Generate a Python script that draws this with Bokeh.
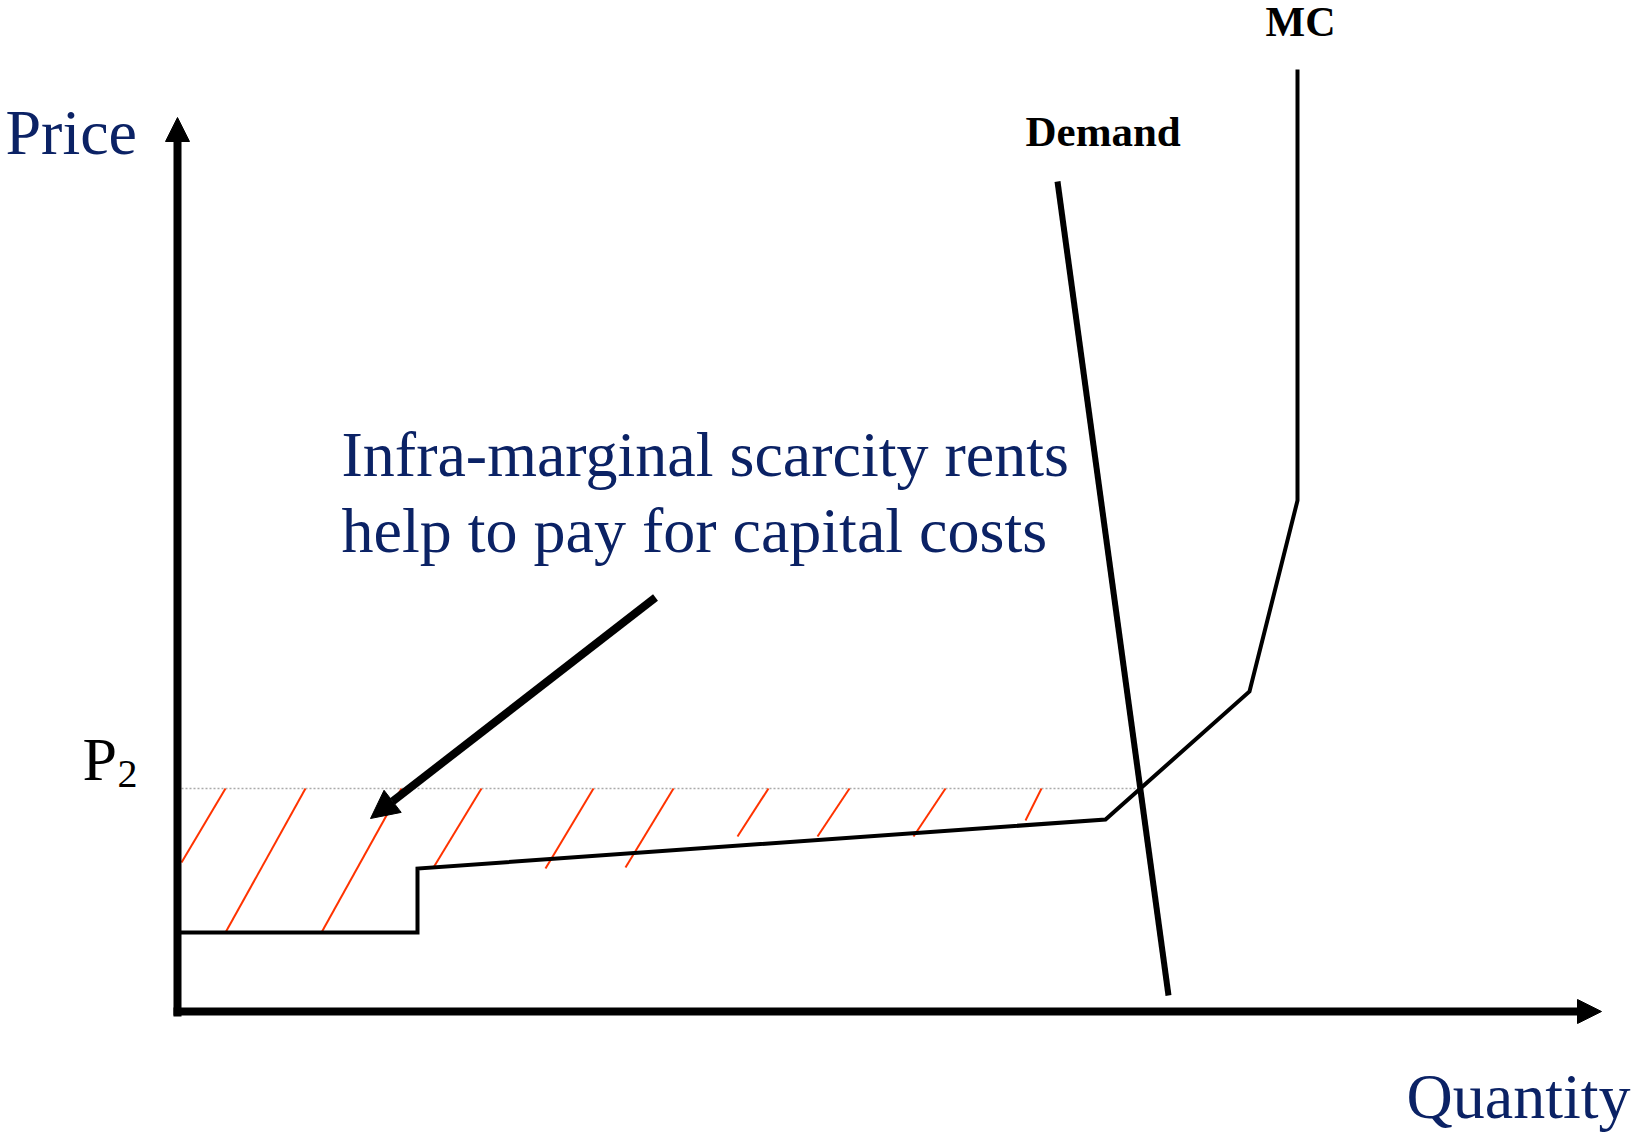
from bokeh.plotting import figure
from bokeh.models import Range1d, Arrow, NormalHead
from bokeh.core.properties import value
from bokeh.embed import file_html
from bokeh.resources import INLINE

# ---- data (arbitrary quantity / price units, origin at axes corner) ----
mc_q = [0, 240, 240, 928, 1072, 1120, 1120]
mc_p = [79, 79, 143, 192, 320, 511, 942]

demand_q = [880, 991]
demand_p = [830, 16]

p2_price = 223
p2_q_end = 962

hatch_q_top = [48, 128, 224, 304, 416, 496, 591, 672, 768, 864]
hatch_q_bot = [4, 48, 144, 256, 368, 448, 560, 640, 736, 848]
hatch_p_bot = [149, 79, 79, 144, 143, 144, 175, 175, 175, 191]

arrow_start = (478, 414)
arrow_end = (193, 193)

x_axis_end = 1424
y_axis_end = 894

annot_lines = ["Infra-marginal scarcity rents", "help to pay for capital costs"]

NAVY = "#0B2265"
SERIF = value("Liberation Serif")

p = figure(width=1632, height=1134, output_backend="svg", toolbar_location=None,
           x_range=Range1d(-177, 1455), y_range=Range1d(-123, 1011),
           x_axis_type=None, y_axis_type=None, min_border=0,
           outline_line_color=None, background_fill_color="white",
           border_fill_color="white")
p.grid.visible = False

# P2 dotted reference line
p.line([0, p2_q_end], [p2_price, p2_price], line_color="#AAAAAA", line_width=1.5, line_dash="2 2")

# hatch lines
p.segment(x0=hatch_q_top, y0=[p2_price] * len(hatch_q_top), x1=hatch_q_bot, y1=hatch_p_bot,
          line_color="#FF3300", line_width=2)

# MC curve
p.line(mc_q, mc_p, line_color="black", line_width=4, line_join="miter")

# Demand
p.line(demand_q, demand_p, line_color="black", line_width=6)

# axes with arrows
p.add_layout(Arrow(end=NormalHead(size=24, fill_color="black", line_color="black"),
                   x_start=0, y_start=-5, x_end=0, y_end=y_axis_end,
                   line_width=8, line_color="black"))
p.add_layout(Arrow(end=NormalHead(size=24, fill_color="black", line_color="black"),
                   x_start=-4, y_start=0, x_end=x_axis_end, y_end=0,
                   line_width=8, line_color="black"))

# annotation arrow
p.add_layout(Arrow(end=NormalHead(size=28, fill_color="black", line_color="black"),
                   x_start=arrow_start[0], y_start=arrow_start[1],
                   x_end=arrow_end[0], y_end=arrow_end[1],
                   line_width=8, line_color="black"))

# texts
def txt(x, y, s, size, color, style="normal"):
    p.text(x=[x], y=[y], text=[s], text_font=SERIF, text_font_size=value(size),
           text_color=color, text_font_style=style, text_align="left",
           text_baseline="alphabetic")

txt(-172, 879, "Price", "64px", NAVY)
txt(1229, -85, "Quantity", "64px", NAVY)
txt(-95, 253, "P", "62px", "black")
txt(-60, 238, "2", "40px", "black")
txt(164, 557, annot_lines[0], "64px", NAVY)
txt(164, 481, annot_lines[1], "64px", NAVY)
txt(848, 880, "Demand", "43px", "black", "bold")
txt(1088, 990, "MC", "42px", "black", "bold")

open("out.html", "w").write(file_html(p, INLINE))
